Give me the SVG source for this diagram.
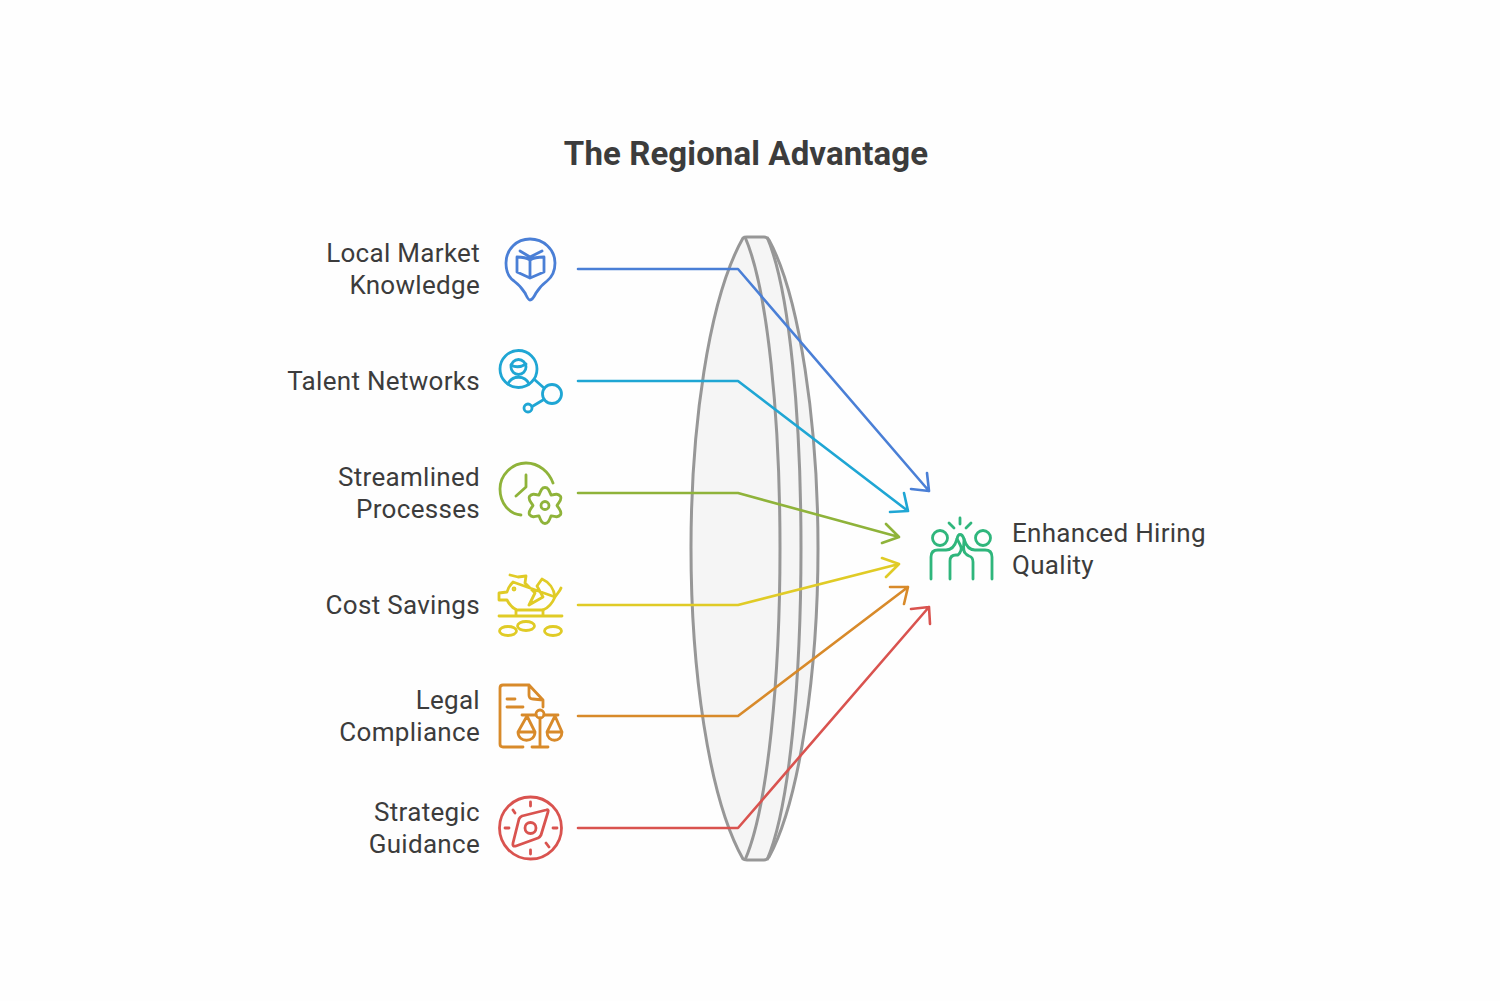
<svg xmlns="http://www.w3.org/2000/svg" width="1500" height="1001" viewBox="0 0 1500 1001">
<style>
text{font-family:Roboto,"Liberation Sans",sans-serif;font-size:26px;fill:#3c3c3c;letter-spacing:.3px}
.r{text-anchor:end}
.t{font-size:33px;font-weight:700;text-anchor:middle;letter-spacing:.1px}
.lens{fill:#f5f5f5;stroke:#979797;stroke-width:3;stroke-linejoin:round}
.arc{fill:none;stroke:#979797;stroke-width:3}
.i{fill:none;stroke-width:2.800;stroke-linecap:round;stroke-linejoin:round}
.c{fill:none;stroke-width:2.600;stroke-linejoin:round;stroke-linecap:round}
</style>
<rect width="1500" height="1001" fill="#fefefe"/>
<text class="t" x="746" y="165">The Regional Advantage</text>
<g id="lens">
<path class="lens" d="M743 238C708 300 691 430 691 548C691 667 708 797 743 859Q744 860 747 860H764Q767 860 769 857C800 800 818 670 818 548C818 426 800 297 769 240Q767 237 764 237H747Q744 237 743 238Z"/>
<path class="arc" d="M745 237C768 290 780 420 780 548C780 677 768 807 745 860"/>
<path class="arc" d="M767 237C790 290 801 420 801 548C801 677 790 807 767 860"/>
</g>
<g id="connectors">
<g stroke="#4a7fd6"><path class="c" d="M578 269H738L929 491M927 473L929 491L911 489"/></g>
<g stroke="#1fa6d4"><path class="c" d="M578 381H738L908 511M904 493L908 511L890 512"/></g>
<g stroke="#8fb33a"><path class="c" d="M578 493H738L899 537M886 524L899 537L882 543"/></g>
<g stroke="#e0cb26"><path class="c" d="M578 605H738L899 564M882 558L899 564L886 577"/></g>
<g stroke="#d88a2a"><path class="c" d="M578 716H738L908 587M890 587L908 587L904 604"/></g>
<g stroke="#d9534f"><path class="c" d="M578 828H738L929 607M911 609L929 607L930 624"/></g>
</g>
<g id="n1"><text class="r" x="480" y="262">Local Market</text><text class="r" x="480" y="294">Knowledge</text>
<g class="i" stroke="#4a7fd6"><path d="M530 300C528 300 527 297 525 293C522 288 518 284 514 281C508 277 506 270 506 263C506 249 517 239 530 239C543 239 555 249 555 263C555 270 552 277 547 281C543 284 539 288 536 293C534 297 532 300 530 300Z"/><path d="M530 260V278L517 272V257C522 257 527 258 530 260C533 258 538 257 544 257V272L530 278M520 251L530 257L542 251"/></g></g>
<g id="n2"><text class="r" x="480" y="390">Talent Networks</text>
<g class="i" stroke="#1fa6d4"><circle cx="518.500" cy="369" r="18.500"/><circle cx="518.500" cy="367" r="7.500"/><path d="M511 365Q518 369 526 364M508 384C512 375 525 375 529 384M535 380L544 388"/><circle cx="552" cy="394" r="9.500"/><path d="M543 400L533 406"/><circle cx="528" cy="408" r="4"/></g></g>
<g id="n3"><text class="r" x="480" y="486">Streamlined</text><text class="r" x="480" y="518">Processes</text>
<g class="i" stroke="#8fb33a"><path d="M521 515C509 514 500 503 500 489C500 475 512 463 526 463C539 463 549 472 553 483M526 475V487L516 496"/><circle cx="545" cy="505.500" r="4"/><path d="M539 495.100C541 490 542 487.500 545 487.500C548 487.500 549 490 551 495.100C556 494 558 493.500 560.600 496.500C562 500 559 502 557 505.500C559 509 562 511 560.600 514.500C558 517.500 556 517 551 515.900C549 521 548 523.500 545 523.500C542 523.500 541 521 539 515.900C534 517 532 517.500 529.400 514.500C528 511 531 509 533 505.500C531 502 528 500 529.400 496.500C532 493.500 534 494 539 495.100Z"/></g></g>
<g id="n4"><text class="r" x="480" y="614">Cost Savings</text>
<g class="i" stroke="#e0cb26"><path d="M510 575L518 577L526 576L525 583L535 593L529 605L543 597L537 586L542 579C549 582 554 589 555 597C557 594 560 591 561 588M555 597C552 604 548 608 543 610H517C512 608 509 604 507 600H499V593L507 592C508 588 510 585 513 582Z"/><path d="M516 610V616M543 610V616M499 616H562"/><circle cx="514" cy="589" r="1"/><ellipse cx="508" cy="631" rx="8.500" ry="4.500"/><ellipse cx="526" cy="626" rx="8.500" ry="4.500"/><ellipse cx="553" cy="631" rx="8.500" ry="4.500"/></g></g>
<g id="n5"><text class="r" x="480" y="709">Legal</text><text class="r" x="480" y="741">Compliance</text>
<g class="i" stroke="#d88a2a"><path d="M523 747H503Q500 747 500 744V688Q500 685 503 685H529L543 700V707M529 685V695Q529 699 533 699L543 700M507 699H515M507 707H523"/><circle cx="540" cy="714" r="4"/><path d="M522 715H536M544 715H558M540 718V747M532 747H548"/><path d="M527 716L518 732H535L527 716M518 732C518 743 535 743 535 732M555 716L547 732H562L555 716M547 732C547 743 562 743 562 732"/></g></g>
<g id="n6"><text class="r" x="480" y="821">Strategic</text><text class="r" x="480" y="853">Guidance</text>
<g class="i" stroke="#d9534f"><circle cx="530.500" cy="828" r="31"/><circle cx="530.500" cy="828" r="5.500"/><path d="M522 816L546 810Q549 809 548 812L541 835Q540 837 538 838L516 846Q512 847 513 843L519 819Q520 817 522 816Z"/><path d="M530.500 802V806M530.500 850V854M505 828H509M553 828H557M513 810L515 813M546 843L549 847"/></g></g>
<g id="result"><text x="1012" y="542">Enhanced Hiring</text><text x="1012" y="574">Quality</text>
<g class="i" stroke="#2fb67c"><circle cx="940" cy="538" r="7.500"/><circle cx="983" cy="538" r="7.500"/><path d="M931 579V557Q931 550 938 550H946C952 550 955 546 957 539C958 533 962 533 964 539C966 546 969 550 975 550H985Q992 550 992 557V579"/><path d="M950 579V561Q950 555 956 555H958C960 553 962 551 961 547C960 544 958 541 957 539M964 539C964 546 962 551 966 554Q967 555 969 556Q973 557 973 562V579"/><path d="M960 518V524M949 523L954 528M971 523L966 528"/></g></g>
</svg>
